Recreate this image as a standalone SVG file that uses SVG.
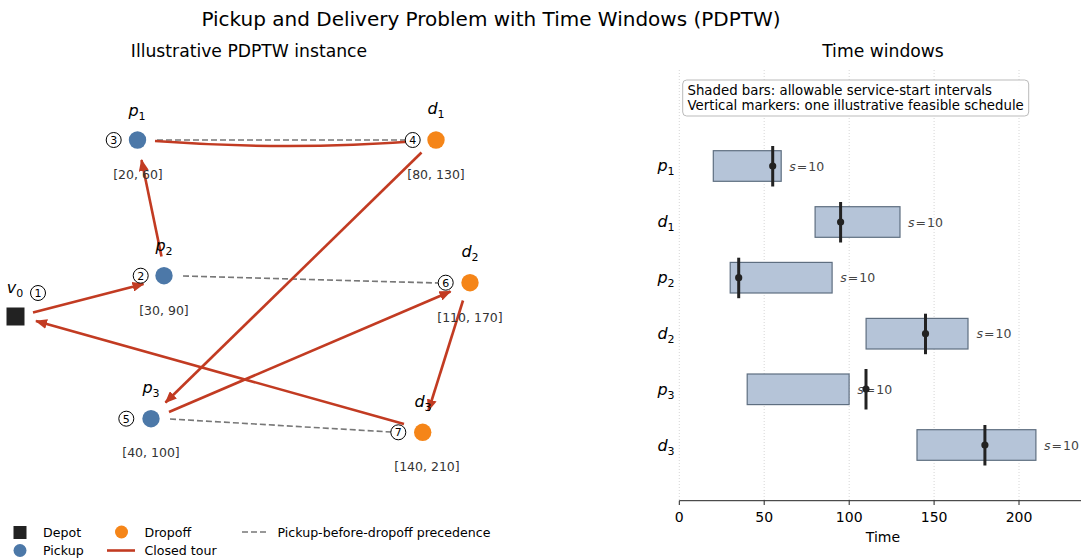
<svg xmlns="http://www.w3.org/2000/svg" width="1081" height="558" viewBox="0 0 1081 558">
<style>
text{font-family:"DejaVu Sans","Liberation Sans",sans-serif;}
.title{font-size:20px;fill:#000;text-anchor:middle;}
.sub{font-size:17.2px;fill:#000;text-anchor:middle;}
.tw{font-size:12.5px;fill:#333;text-anchor:middle;}
.lbl{font-size:16px;fill:#000;text-anchor:middle;}
.it{font-style:italic;}
.num{font-size:11px;fill:#000;text-anchor:middle;}
.ord{fill:#fff;stroke:#000;stroke-width:1;}
.pick{fill:#4C78A8;}
.drop{fill:#F58518;}
.tour{fill:none;stroke:#C23B22;stroke-width:2.6;marker-end:url(#ah);}
.prec{stroke:#777;stroke-width:1.6;stroke-dasharray:6,3;fill:none;}
.grid{stroke:#ccc;stroke-width:0.8;stroke-dasharray:1,2;}
.bar{fill:#B5C4D8;stroke:#5E6E80;stroke-width:1.2;}
.mk{stroke:#222;stroke-width:3;}
.s{font-size:12.5px;fill:#444;}
.ylab{font-size:16px;fill:#000;text-anchor:middle;}
.tick{font-size:14px;fill:#000;text-anchor:middle;}
.leg{font-size:12.6px;fill:#000;}
.box{font-size:13.3px;fill:#000;}
</style>
<defs>
<marker id="ah" markerUnits="userSpaceOnUse" markerWidth="12" markerHeight="10" refX="11" refY="5" orient="auto">
<path d="M0,0 L12,5 L0,10 z" fill="#C23B22"/>
</marker>
</defs>

<text class="title" x="491" y="26">Pickup and Delivery Problem with Time Windows (PDPTW)</text>
<text class="sub" x="249" y="57">Illustrative PDPTW instance</text>
<text class="sub" x="883" y="57">Time windows</text>

<g id="connectors">
<line class="prec" x1="157" y1="140" x2="405" y2="140"/>
<line class="prec" x1="183" y1="276" x2="438" y2="283"/>
<line class="prec" x1="170" y1="419" x2="391" y2="432"/>
<line class="tour" x1="33" y1="312.5" x2="143.5" y2="284"/>
<line class="tour" x1="161.5" y1="256.5" x2="141.5" y2="160"/>
<path class="tour" d="M155,141 Q 288,151 419,141"/>
<line class="tour" x1="421.5" y1="152.5" x2="165.5" y2="402.5"/>
<line class="tour" x1="169" y1="412" x2="450.5" y2="291.5"/>
<line class="tour" x1="463" y1="300.5" x2="428.5" y2="410.5"/>
<line class="tour" x1="404" y1="424" x2="36" y2="321"/>
</g>

<g id="depot">
<rect x="6.5" y="307.5" width="18" height="18" fill="#222"/>
<text class="lbl it" x="15" y="293">v<tspan font-size="11" font-style="normal" dy="4">0</tspan></text>
<circle class="ord" cx="38" cy="293" r="7.5"/><text class="num" x="38" y="297">1</text>
</g>

<g id="p1">
<circle class="pick" cx="137.5" cy="140" r="8.7"/>
<text class="lbl it" x="137" y="116">p<tspan font-size="11" font-style="normal" dy="4">1</tspan></text>
<circle class="ord" cx="113.7" cy="140" r="7.5"/><text class="num" x="113.7" y="144">3</text>
<text class="tw" x="138" y="179">[20, 60]</text>
</g>

<g id="p2">
<circle class="pick" cx="164" cy="275.7" r="8.7"/>
<text class="lbl it" x="164" y="251">p<tspan font-size="11" font-style="normal" dy="4">2</tspan></text>
<circle class="ord" cx="140.7" cy="275.7" r="7.5"/><text class="num" x="140.7" y="279.7">2</text>
<text class="tw" x="164" y="315">[30, 90]</text>
</g>

<g id="p3">
<circle class="pick" cx="151" cy="418.7" r="8.7"/>
<text class="lbl it" x="151" y="393">p<tspan font-size="11" font-style="normal" dy="4">3</tspan></text>
<circle class="ord" cx="126.3" cy="418.7" r="7.5"/><text class="num" x="126.3" y="422.7">5</text>
<text class="tw" x="151" y="457">[40, 100]</text>
</g>

<g id="d1">
<circle class="drop" cx="436" cy="140" r="8.7"/>
<text class="lbl it" x="436" y="114">d<tspan font-size="11" font-style="normal" dy="4">1</tspan></text>
<circle class="ord" cx="412.7" cy="140" r="7.5"/><text class="num" x="412.7" y="144">4</text>
<text class="tw" x="436" y="179">[80, 130]</text>
</g>

<g id="d2">
<circle class="drop" cx="470" cy="282.7" r="8.7"/>
<text class="lbl it" x="470" y="257">d<tspan font-size="11" font-style="normal" dy="4">2</tspan></text>
<circle class="ord" cx="445.7" cy="282.7" r="7.5"/><text class="num" x="445.7" y="286.7">6</text>
<text class="tw" x="470" y="322">[110, 170]</text>
</g>

<g id="d3">
<circle class="drop" cx="422.7" cy="432.3" r="8.7"/>
<text class="lbl it" x="423" y="407">d<tspan font-size="11" font-style="normal" dy="4">3</tspan></text>
<circle class="ord" cx="398.3" cy="432.3" r="7.5"/><text class="num" x="398.3" y="436.3">7</text>
<text class="tw" x="427" y="471">[140, 210]</text>
</g>

<g id="legend-left">
<rect x="13.5" y="526" width="13" height="13" fill="#222"/>
<text class="leg" x="43" y="537">Depot</text>
<circle class="pick" cx="20" cy="550.5" r="6.5"/>
<text class="leg" x="43" y="555">Pickup</text>
<circle class="drop" cx="121.5" cy="532" r="6.5"/>
<text class="leg" x="144.5" y="537">Dropoff</text>
<line x1="107" y1="550.5" x2="135" y2="550.5" stroke="#C23B22" stroke-width="2.6"/>
<text class="leg" x="144.5" y="555">Closed tour</text>
<line x1="242" y1="532" x2="267" y2="532" stroke="#777" stroke-width="1.6" stroke-dasharray="6,3"/>
<text class="leg" x="277.5" y="537">Pickup-before-dropoff precedence</text>
</g>

<g id="chart">
<line class="grid" x1="679.3" y1="70" x2="679.3" y2="500"/>
<line class="grid" x1="764.2" y1="70" x2="764.2" y2="500"/>
<line class="grid" x1="849.2" y1="70" x2="849.2" y2="500"/>
<line class="grid" x1="934.1" y1="70" x2="934.1" y2="500"/>
<line class="grid" x1="1019" y1="70" x2="1019" y2="500"/>

<rect x="682.7" y="80" width="346" height="36" rx="4" fill="#fff" fill-opacity="0.9" stroke="#bbb" stroke-width="1"/>
<text class="box" x="687.5" y="95">Shaded bars: allowable service-start intervals</text>
<text class="box" x="687.5" y="110">Vertical markers: one illustrative feasible schedule</text>

<g id="row-p1">
<rect class="bar" x="713.3" y="150.7" width="67.9" height="30.6"/>
<line class="mk" x1="772.7" y1="146" x2="772.7" y2="186.5"/><circle cx="772.7" cy="166" r="3.6" fill="#222"/>
<text class="s" x="789.3" y="170.5"><tspan font-style="italic">s</tspan><tspan dx="1">=</tspan><tspan dx="1">10</tspan></text>
<text class="ylab it" x="666" y="171">p<tspan font-size="11" font-style="normal" dy="4">1</tspan></text>
</g>
<g id="row-d1">
<rect class="bar" x="815.1" y="206.7" width="84.9" height="30.6"/>
<line class="mk" x1="840.6" y1="202" x2="840.6" y2="242.5"/><circle cx="840.6" cy="222" r="3.6" fill="#222"/>
<text class="s" x="908" y="226.5"><tspan font-style="italic">s</tspan><tspan dx="1">=</tspan><tspan dx="1">10</tspan></text>
<text class="ylab it" x="666" y="227">d<tspan font-size="11" font-style="normal" dy="4">1</tspan></text>
</g>
<g id="row-p2">
<rect class="bar" x="730.2" y="262.4" width="101.9" height="30.6"/>
<line class="mk" x1="738.7" y1="257.7" x2="738.7" y2="298.2"/><circle cx="738.7" cy="277.7" r="3.6" fill="#222"/>
<text class="s" x="840.3" y="282.2"><tspan font-style="italic">s</tspan><tspan dx="1">=</tspan><tspan dx="1">10</tspan></text>
<text class="ylab it" x="666" y="283">p<tspan font-size="11" font-style="normal" dy="4">2</tspan></text>
</g>
<g id="row-d2">
<rect class="bar" x="866.1" y="318.4" width="101.9" height="30.6"/>
<line class="mk" x1="925.5" y1="313.7" x2="925.5" y2="354.2"/><circle cx="925.5" cy="333.7" r="3.6" fill="#222"/>
<text class="s" x="976.5" y="338.2"><tspan font-style="italic">s</tspan><tspan dx="1">=</tspan><tspan dx="1">10</tspan></text>
<text class="ylab it" x="666" y="339">d<tspan font-size="11" font-style="normal" dy="4">2</tspan></text>
</g>
<g id="row-p3">
<rect class="bar" x="747.2" y="374" width="101.9" height="30.6"/>
<text class="s" x="857.3" y="393.8"><tspan font-style="italic">s</tspan><tspan dx="1">=</tspan><tspan dx="1">10</tspan></text>
<line class="mk" x1="866" y1="369" x2="866" y2="409.5"/><circle cx="866" cy="389" r="3.6" fill="#222"/>
<text class="ylab it" x="666" y="395">p<tspan font-size="11" font-style="normal" dy="4">3</tspan></text>
</g>
<g id="row-d3">
<rect class="bar" x="917" y="429.7" width="118.9" height="30.6"/>
<line class="mk" x1="984.9" y1="425" x2="984.9" y2="465.5"/><circle cx="984.9" cy="445" r="3.6" fill="#222"/>
<text class="s" x="1044" y="449.5"><tspan font-style="italic">s</tspan><tspan dx="1">=</tspan><tspan dx="1">10</tspan></text>
<text class="ylab it" x="666" y="451">d<tspan font-size="11" font-style="normal" dy="4">3</tspan></text>
</g>

<line x1="679.3" y1="500.7" x2="1081" y2="500.7" stroke="#222" stroke-width="1"/>
<g stroke="#222" stroke-width="1">
<line x1="679.3" y1="500.7" x2="679.3" y2="505"/>
<line x1="764.2" y1="500.7" x2="764.2" y2="505"/>
<line x1="849.2" y1="500.7" x2="849.2" y2="505"/>
<line x1="934.1" y1="500.7" x2="934.1" y2="505"/>
<line x1="1019" y1="500.7" x2="1019" y2="505"/>
</g>
<text class="tick" x="679.3" y="522">0</text>
<text class="tick" x="764.2" y="522">50</text>
<text class="tick" x="849.2" y="522">100</text>
<text class="tick" x="934.1" y="522">150</text>
<text class="tick" x="1019" y="522">200</text>
<text class="tick" x="883" y="542">Time</text>
</g>
</svg>
